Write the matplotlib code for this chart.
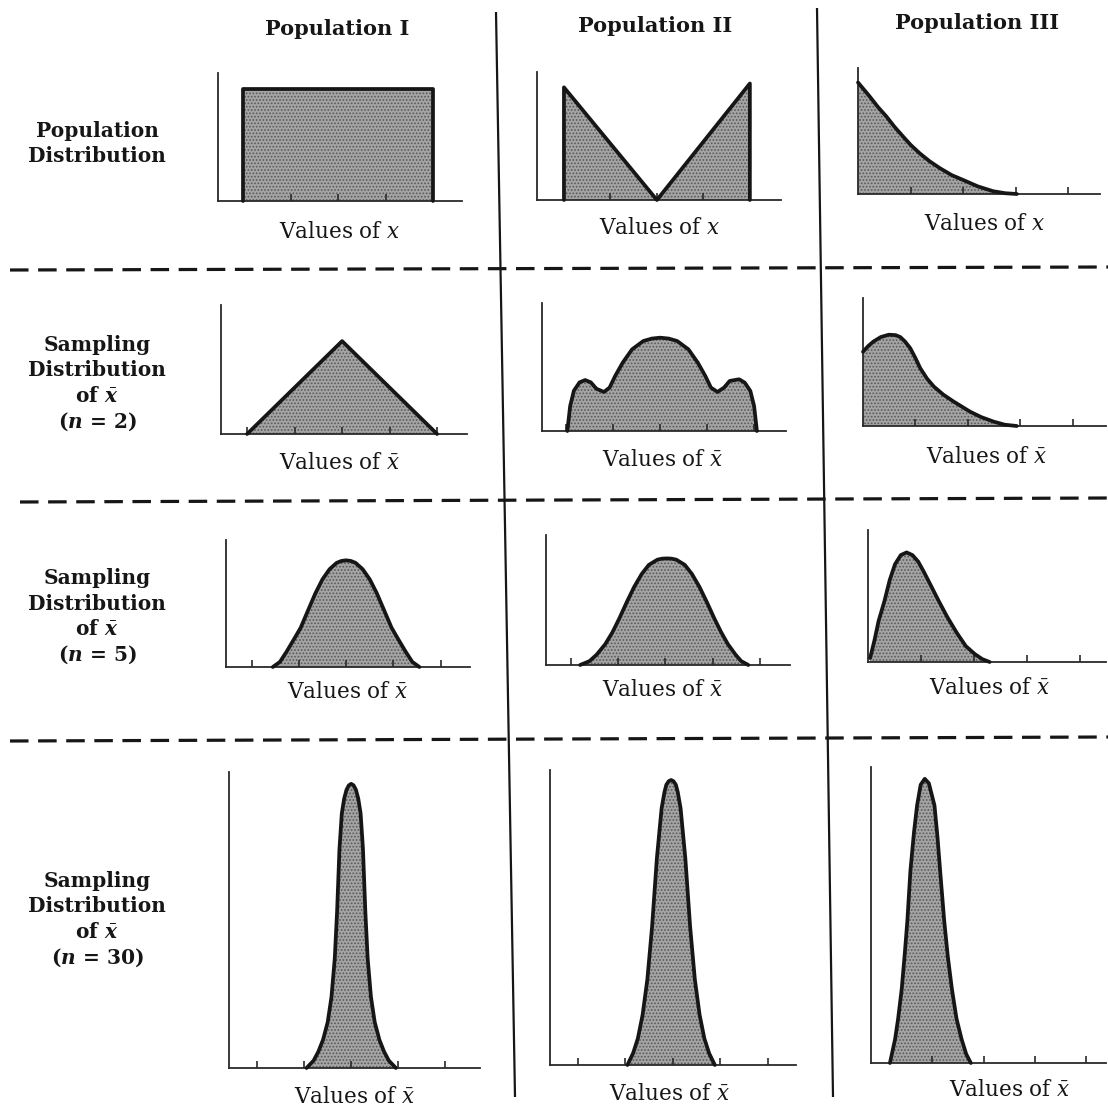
import matplotlib
matplotlib.use("Agg")
import matplotlib.pyplot as plt

plt.rcParams['font.family'] = ['DejaVu Serif']
plt.rcParams['mathtext.fontset'] = 'custom'
plt.rcParams['mathtext.rm'] = 'DejaVu Serif'
plt.rcParams['mathtext.it'] = 'DejaVu Serif:italic:bold'
plt.rcParams['mathtext.bf'] = 'DejaVu Serif:bold'
plt.rcParams['mathtext.sf'] = 'DejaVu Serif:italic'
plt.rcParams['hatch.linewidth'] = 0.8

# ---------------- data (x in tick units, y as share of axis height) -------------
column_titles = ["Population I", "Population II", "Population III"]
row_labels = [
    ["Population", "Distribution"],
    ["Sampling", "Distribution", r"of $\bar{x}$", r"($n$ = 2)"],
    ["Sampling", "Distribution", r"of $\bar{x}$", r"($n$ = 5)"],
    ["Sampling", "Distribution", r"of $\bar{x}$", r"($n$ = 30)"],
]
x_labels = [r"Values of $\mathsf{x}$", r"Values of $\mathsf{\bar{x}}$"]

# Population I
pop1_n1_x = [0, 0, 4, 4]
pop1_n1_y = [0, 0.875, 0.875, 0]
pop1_n2_x = [0, 2, 4]
pop1_n2_y = [0, 0.72, 0]
pop1_n5_x = [0.45, 0.6, 0.74, 0.9, 1.04, 1.2, 1.35, 1.5, 1.65, 1.8, 1.9, 2.0,
             2.1, 2.2, 2.35, 2.5, 2.65, 2.8, 2.96, 3.1, 3.26, 3.4, 3.55]
pop1_n5_y = [0.0, 0.04, 0.12, 0.22, 0.31, 0.45, 0.58, 0.69, 0.77, 0.82, 0.835, 0.84,
             0.835, 0.82, 0.77, 0.69, 0.58, 0.45, 0.31, 0.22, 0.12, 0.04, 0.0]
pop1_n30_x = [1.05, 1.2, 1.3, 1.4, 1.5, 1.58, 1.65, 1.7, 1.75, 1.8, 1.85, 1.9, 1.95, 2.0,
              2.05, 2.1, 2.15, 2.2, 2.25, 2.3, 2.35, 2.42, 2.5, 2.6, 2.7, 2.8, 2.95]
pop1_n30_y = [0, 0.025, 0.055, 0.095, 0.155, 0.24, 0.37, 0.53, 0.74, 0.86, 0.91, 0.94, 0.955, 0.96,
              0.955, 0.94, 0.91, 0.86, 0.74, 0.53, 0.37, 0.24, 0.155, 0.095, 0.055, 0.025, 0]

# Population II
pop2_n1_x = [0, 0, 2, 4, 4]
pop2_n1_y = [0, 0.88, 0, 0.91, 0]
pop2_n2_x = [0.02, 0.08, 0.16, 0.28, 0.4, 0.52, 0.64, 0.8, 0.92, 1.04, 1.2, 1.4, 1.64, 1.82, 2.0,
             2.18, 2.36, 2.6, 2.8, 2.96, 3.08, 3.22, 3.36, 3.48, 3.68, 3.8, 3.92, 4.0, 4.06]
pop2_n2_y = [0, 0.195, 0.315, 0.38, 0.398, 0.38, 0.33, 0.305, 0.339, 0.43, 0.534, 0.638, 0.703, 0.722, 0.729,
             0.722, 0.703, 0.638, 0.534, 0.43, 0.339, 0.305, 0.339, 0.391, 0.404, 0.378, 0.313, 0.195, 0]
pop2_n5_x = [0.2, 0.4, 0.55, 0.73, 0.88, 1.03, 1.18, 1.34, 1.5, 1.65, 1.83, 1.93, 2.03,
             2.13, 2.23, 2.41, 2.56, 2.72, 2.88, 3.03, 3.18, 3.32, 3.48, 3.6, 3.75]
pop2_n5_y = [0, 0.03, 0.08, 0.16, 0.25, 0.36, 0.48, 0.6, 0.7, 0.77, 0.81, 0.818, 0.82,
             0.818, 0.81, 0.77, 0.7, 0.6, 0.48, 0.36, 0.25, 0.16, 0.08, 0.03, 0]
pop2_n30_x = [1.05, 1.17, 1.27, 1.37, 1.47, 1.57, 1.67, 1.77, 1.83, 1.87, 1.92, 1.97,
              2.02, 2.07, 2.11, 2.17, 2.27, 2.37, 2.47, 2.57, 2.67, 2.77, 2.89]
pop2_n30_y = [0, 0.04, 0.09, 0.17, 0.29, 0.47, 0.7, 0.87, 0.925, 0.95, 0.962, 0.966,
              0.962, 0.95, 0.925, 0.87, 0.7, 0.47, 0.29, 0.17, 0.09, 0.04, 0]

# Population III
pop3_n1_x = [0.0, 0.1, 0.22, 0.38, 0.54, 0.7, 0.857, 1.0, 1.17, 1.36, 1.56, 1.78,
             2.0, 2.28, 2.57, 2.8, 3.02]
pop3_n1_y = [0.885, 0.835, 0.775, 0.69, 0.615, 0.53, 0.456, 0.39, 0.324, 0.26, 0.204, 0.15,
             0.111, 0.06, 0.022, 0.006, 0]
pop3_n2_x = [0.0, 0.1, 0.2, 0.34, 0.49, 0.62, 0.71, 0.8, 0.9, 1.0, 1.09, 1.22, 1.35,
             1.53, 1.73, 2.04, 2.25, 2.49, 2.7, 2.93]
pop3_n2_y = [0.58, 0.625, 0.66, 0.695, 0.713, 0.71, 0.695, 0.66, 0.608, 0.53, 0.452, 0.37, 0.308,
             0.245, 0.19, 0.112, 0.07, 0.034, 0.01, 0]
pop3_n5_x = [0.04, 0.12, 0.2, 0.31, 0.41, 0.51, 0.62, 0.73, 0.84, 0.95, 1.06, 1.2, 1.34,
             1.5, 1.68, 1.85, 2.02, 2.16, 2.3]
pop3_n5_y = [0.03, 0.16, 0.31, 0.46, 0.62, 0.74, 0.81, 0.83, 0.81, 0.76, 0.68, 0.57, 0.46,
             0.34, 0.22, 0.12, 0.06, 0.022, 0]
pop3_n30_x = [0.37, 0.47, 0.53, 0.6, 0.66, 0.71, 0.77, 0.84, 0.9, 0.97, 1.05,
              1.13, 1.24, 1.3, 1.35, 1.43, 1.5, 1.58, 1.67, 1.77, 1.86, 1.95]
pop3_n30_y = [0, 0.08, 0.15, 0.25, 0.37, 0.48, 0.65, 0.78, 0.87, 0.94, 0.96,
              0.945, 0.87, 0.76, 0.65, 0.48, 0.36, 0.25, 0.15, 0.08, 0.03, 0]

ticks_12 = [0, 1, 2, 3, 4]
ticks_3 = [1, 2, 3, 4]
ticks_3_n30 = [1.2, 2.2, 3.2, 4.2]

curves = [
    [(pop1_n1_x, pop1_n1_y), (pop2_n1_x, pop2_n1_y), (pop3_n1_x, pop3_n1_y)],
    [(pop1_n2_x, pop1_n2_y), (pop2_n2_x, pop2_n2_y), (pop3_n2_x, pop3_n2_y)],
    [(pop1_n5_x, pop1_n5_y), (pop2_n5_x, pop2_n5_y), (pop3_n5_x, pop3_n5_y)],
    [(pop1_n30_x, pop1_n30_y), (pop2_n30_x, pop2_n30_y), (pop3_n30_x, pop3_n30_y)],
]

# ---------------- layout (pixels of the 1108 x 1107 canvas) ----------------
W, H = 1108, 1107
# left, right, baseline, top, xmin, xmax
panels = [
    [(218, 462, 201, 73, -0.53, 4.61), (537, 781, 200, 72, -0.58, 4.67), (858, 1100, 194, 68, 0, 4.6)],
    [(221, 467, 434, 305, -0.55, 4.63), (542, 786, 431, 303, -0.52, 4.68), (863, 1106, 426, 298, 0, 4.63)],
    [(226, 470, 667, 540, -0.54, 4.62), (546, 790, 665, 535, -0.52, 4.63), (868, 1106, 662, 530, 0, 4.5)],
    [(229, 480, 1068, 772, -0.6, 4.74), (550, 796, 1065, 770, -0.58, 4.6), (871, 1106, 1063, 767, 0, 4.59)],
]
xlabel_pos = [
    [(340, 232), (660, 228), (985, 224)],
    [(340, 463), (663, 460), (987, 457)],
    [(348, 692), (663, 690), (990, 688)],
    [(355, 1097), (670, 1094), (1010, 1090)],
]
title_pos = [(337, 29), (655, 26), (977, 23)]
rowlabel_top = [131, 345, 578, 881]
rowlabel_x = 97
line_step = 25.5

INK = '#161616'
FILL = '#a4a4a4'
DOTS = '#585858'

fig = plt.figure(figsize=(W / 100, H / 100), dpi=100)
fig.patch.set_facecolor('white')

base = fig.add_axes([0, 0, 1, 1])
base.set_xlim(0, W)
base.set_ylim(H, 0)
base.axis('off')

# dividers
base.plot([496, 515], [12, 1097], color=INK, lw=1.6, solid_capstyle='butt')
base.plot([817, 833], [8, 1097], color=INK, lw=1.6, solid_capstyle='butt')
for y0, y1, xs in [(270, 267, 10), (502, 498, 20), (741, 737, 10)]:
    base.plot([xs, W], [y0, y1], color=INK, lw=2.3, linestyle=(0, (5.8, 3.0)),
              solid_capstyle='butt', dash_capstyle='butt')

# titles and row labels
for (tx, ty), t in zip(title_pos, column_titles):
    base.text(tx, ty, t, ha='center', va='center', fontsize=15, fontweight='bold', color=INK)
for r, lines in enumerate(row_labels):
    for i, line in enumerate(lines):
        base.text(rowlabel_x, rowlabel_top[r] + i * line_step, line, ha='center', va='center',
                  fontsize=14.5, fontweight='bold', color=INK)

for r in range(4):
    for c in range(3):
        L, R, B, T, xmin, xmax = panels[r][c]
        ax = fig.add_axes([L / W, 1 - B / H, (R - L) / W, (B - T) / H])
        ax.set_facecolor('none')
        ax.set_xlim(xmin, xmax)
        ax.set_ylim(0, 1)
        for s in ['top', 'right']:
            ax.spines[s].set_visible(False)
        for s in ['left', 'bottom']:
            ax.spines[s].set_color('#2a2a2a')
            ax.spines[s].set_linewidth(1.3)
        xs, ys = curves[r][c]
        ax.fill_between(xs, ys, 0, facecolor=FILL, edgecolor=DOTS, linewidth=0,
                        hatch='.....', zorder=1)
        ax.plot(xs, ys, color=INK, lw=2.7, solid_joinstyle='round',
                solid_capstyle='round', clip_on=False, zorder=3)
        if c < 2:
            tk = ticks_12
        elif r == 3:
            tk = ticks_3_n30
        else:
            tk = ticks_3
        ax.set_xticks(tk)
        ax.set_xticklabels([])
        ax.set_yticks([])
        ax.tick_params(axis='x', direction='in', length=5, width=1.2, color='#2a2a2a')
        lx, ly = xlabel_pos[r][c]
        base.text(lx, ly, x_labels[0] if r == 0 else x_labels[1], ha='center', va='center',
                  fontsize=15.5, color=INK)

fig.savefig('out.png', dpi=100, facecolor='white')
